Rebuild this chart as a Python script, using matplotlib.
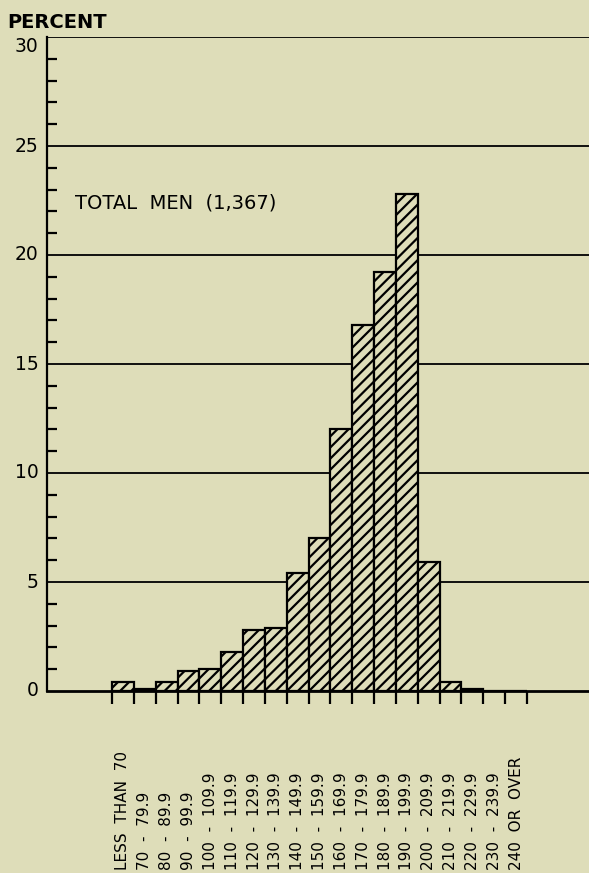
import numpy as np
import matplotlib.pyplot as plt

# Percent of men in each class
classes = ['LESS  THAN  70', '70  -  79.9', '80  -  89.9', '90  -  99.9', '100  -  109.9',
           '110  -  119.9', '120  -  129.9', '130  -  139.9', '140  -  149.9', '150  -  159.9',
           '160  -  169.9', '170  -  179.9', '180  -  189.9', '190  -  199.9', '200  -  209.9',
           '210  -  219.9', '220  -  229.9', '230  -  239.9', '240  OR  OVER']
percent = [0.4, 0.1, 0.4, 0.9, 1.0, 1.8, 2.8, 2.9, 5.4, 7.0,
           12.0, 16.8, 19.2, 22.8, 5.9, 0.4, 0.1, 0.0, 0.0]
y_ticks = [0, 5, 10, 15, 20, 25, 30]
label_text = 'TOTAL  MEN  (1,367)'

bg = '#deddb9'
plt.rcParams['hatch.linewidth'] = 1.6
plt.rcParams['font.family'] = 'DejaVu Sans'

W, H = 589, 873
fig = plt.figure(figsize=(W / 100, H / 100), dpi=100, facecolor=bg)
ax = fig.add_axes([47 / W, 1 - 691 / H, 1 - 47 / W, (691 - 37) / H])
ax.set_facecolor(bg)

x = np.arange(len(percent))
ax.bar(x, percent, width=1, align='edge', facecolor=bg, edgecolor='black',
       linewidth=1.6, hatch='///', zorder=3)

ax.set_xlim(-2.98, 21.84)
ax.set_ylim(0, 30)

# spines
for s in ['top', 'right']:
    ax.spines[s].set_visible(False)
ax.spines['left'].set_linewidth(1.6)
ax.spines['bottom'].set_linewidth(2.0)
ax.spines['bottom'].set_zorder(4)

# grid lines at every 5 percent
for v in y_ticks[1:]:
    ax.axhline(v, color='black', lw=1.3, zorder=1)

# y ticks
ax.set_yticks(y_ticks)
ax.set_yticklabels([])
ax.tick_params(axis='y', which='major', length=0)
ax.set_yticks(np.arange(0, 31, 1), minor=True)
ax.tick_params(axis='y', which='minor', direction='in', length=7, width=1.6)
for v in y_ticks:
    va = 'top' if v == 30 else 'center'
    ax.text(-0.016, v, str(v), transform=ax.get_yaxis_transform(),
            ha='right', va=va, fontsize=13.5)

# x ticks at class boundaries, labels below each bar
ax.set_xticks(np.arange(len(percent) + 1))
ax.set_xticklabels([])
ax.tick_params(axis='x', direction='out', length=9, width=1.6)
for i, lab in enumerate(classes):
    ax.text(i + 0.5, -0.2737, lab, transform=ax.get_xaxis_transform(),
            rotation=90, ha='center', va='bottom', fontsize=11)

fig.text(7 / W, 1 - 28 / H, 'PERCENT', ha='left', va='baseline',
         fontsize=14, weight='bold')
ax.text(-1.7, 22.4, label_text, ha='left', va='center', fontsize=14)

fig.savefig('out.png', dpi=100, facecolor=bg)
